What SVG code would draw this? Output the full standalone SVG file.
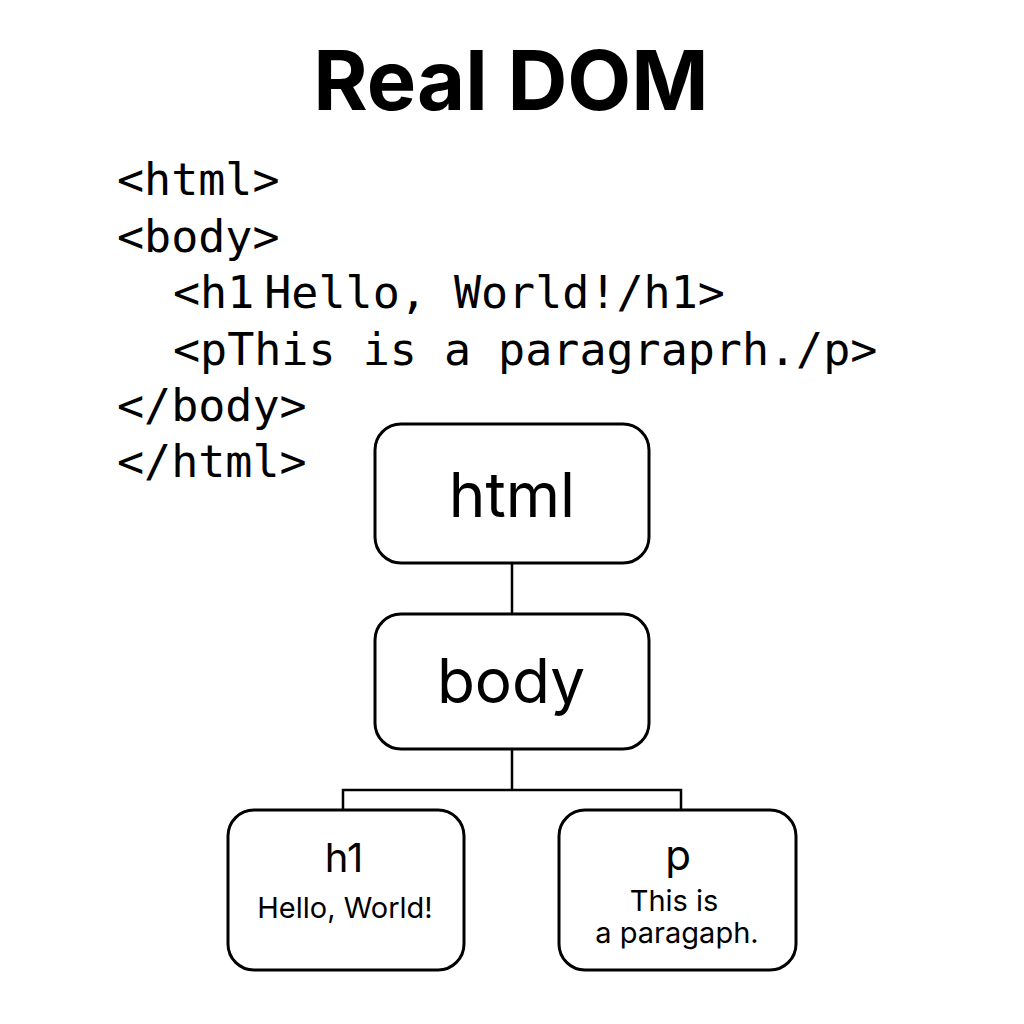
<svg xmlns="http://www.w3.org/2000/svg" width="1024" height="1024" viewBox="0 0 1024 1024">
<style>
.box{fill:#fff;stroke:#000;stroke-width:3}
.conn{fill:none;stroke:#000;stroke-width:2.5}
.code{font-family:"DejaVu Sans Mono",monospace;font-size:45px;fill:#000}
.lbl{font-family:Inter,"Liberation Sans",sans-serif;fill:#000;text-anchor:middle}
</style>
<rect width="1024" height="1024" fill="#fff"/>
<text x="511" y="110" class="lbl" font-size="83" font-weight="700">Real DOM</text>
<g id="code">
<text class="code" x="117" y="195">&lt;html&gt;</text>
<text class="code" x="117" y="252">&lt;body&gt;</text>
<text class="code" x="173" y="308">&lt;h1<tspan dx="10">Hello, World!/h1&gt;</tspan></text>
<text class="code" x="173" y="365">&lt;pThis is a paragraprh./p&gt;</text>
<text class="code" x="117" y="421">&lt;/body&gt;</text>
<text class="code" x="117" y="477">&lt;/html&gt;</text>
</g>
<g id="connectors">
<line class="conn" x1="512" y1="563" x2="512" y2="614"/>
<path class="conn" d="M512 749 V790 M343 810 V790 H681 V810"/>
</g>
<g id="node-html">
<rect class="box" x="375" y="424" width="274" height="139" rx="26"/>
<text class="lbl" x="512" y="517" font-size="62">html</text>
</g>
<g id="node-body">
<rect class="box" x="375" y="614" width="274" height="135" rx="26"/>
<text class="lbl" x="511" y="703" font-size="62">body</text>
</g>
<g id="node-h1">
<rect class="box" x="228" y="810" width="236" height="160" rx="26"/>
<text class="lbl" x="344" y="872" font-size="40">h1</text>
<text class="lbl" x="345" y="918" font-size="29">Hello, World!</text>
</g>
<g id="node-p">
<rect class="box" x="559" y="810" width="237" height="160" rx="26"/>
<text class="lbl" x="678" y="870" font-size="42">p</text>
<text class="lbl" x="674" y="911" font-size="29">This is</text>
<text class="lbl" x="677" y="943" font-size="29">a paragaph.</text>
</g>
</svg>
